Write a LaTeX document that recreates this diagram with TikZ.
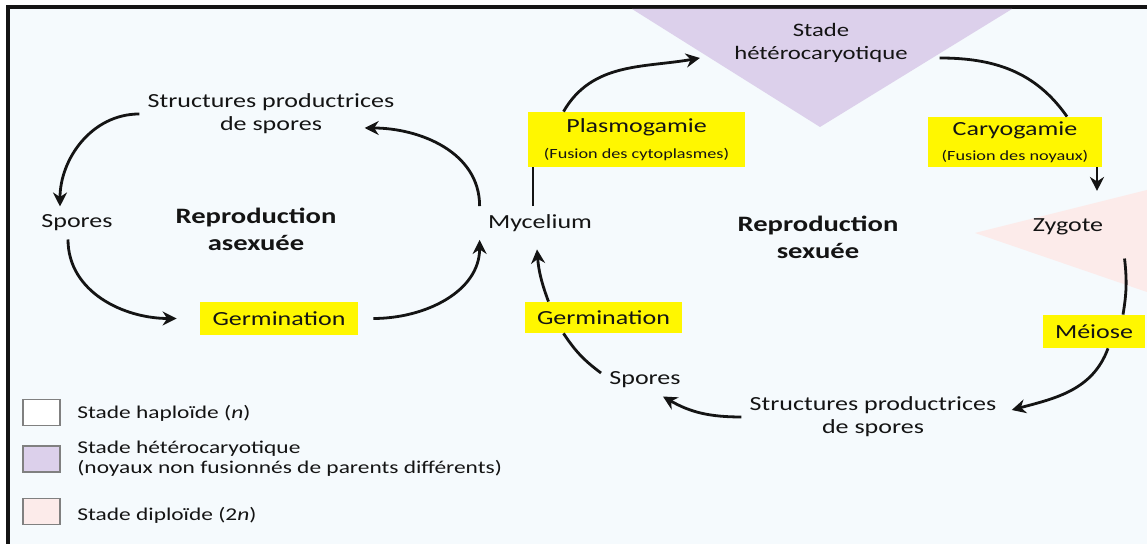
\documentclass[tikz,border=0pt]{standalone}
\usepackage{fontspec}
\setmainfont[FakeStretch=1.3]{Carlito}
\usetikzlibrary{calc, arrows.meta}
\definecolor{ink}{HTML}{141414}
\definecolor{bgpaper}{HTML}{F5FAFD}
\definecolor{hlyellow}{HTML}{FFF700}
\definecolor{hetcol}{HTML}{DCD0EB}
\definecolor{dipcol}{HTML}{FCEBEA}
\definecolor{keygray}{HTML}{808080}

\begin{document}
\begin{tikzpicture}[x=0.5pt, y=0.5pt,
  term/.style={inner sep=4pt, align=center, text=ink, font=\fontsize{10}{11.5}\selectfont},
  title/.style={term, font=\fontsize{11}{13.5}\selectfont\bfseries},
  phase/.style={fill=hlyellow, inner sep=0pt, align=center, text=ink, font=\fontsize{10}{11.5}\selectfont},
  swatch/.style={draw=keygray, line width=0.75pt, minimum width=18.5pt, minimum height=13pt},
  keytext/.style={anchor=west, inner sep=0pt, align=left, text=ink, font=\fontsize{9}{10}\selectfont},
  arrow/.style={->, >={Stealth[length=7pt, width=7pt]}, line width=1.4pt, ink},
  link/.style={line width=1.4pt, ink}
]
\useasboundingbox (0,0) rectangle (1147,544);

% Frame and stages
\fill[bgpaper] (8,0) rectangle (1147,537);
\draw[line width=2pt, ink] (1147,537) -- (8,537) -- (8,0);
\fill[hetcol] (632,535) -- (1012,535) -- (820,417) -- cycle;
\fill[dipcol] (975,311) -- (1147,354) -- (1147,252) -- cycle;

% Asexual cycle
\node[term] (strucA) at (271,430) {Structures productrices\\de spores};
\node[term] (sporesA) at (77,321) {Spores};
\node[title] (reproA) at (256,315) {Reproduction\\asexuée};
\node[phase, minimum width=79pt, minimum height=16.5pt] (germA) at (279,225.5) {Germination};
\node[term] (myc) at (540,321) {Mycelium};

% Sexual cycle
\node[phase, minimum width=108.5pt, minimum height=27.5pt] (plasmo) at (636.5,404.5) {Plasmogamie\\[1.5pt]{\fontsize{7}{8}\selectfont (Fusion des cytoplasmes)}};
\node[term, font=\fontsize{9.5}{11.5}\selectfont] (hetero) at (821,501) {Stade\\hétérocaryotique};
\node[phase, minimum width=87pt, minimum height=25pt] (caryo) at (1015,402) {Caryogamie\\[1pt]{\fontsize{7}{8}\selectfont (Fusion des noyaux)}};
\node[term] (zygote) at (1068,317) {Zygote};
\node[title] (reproS) at (818,307) {Reproduction\\sexuée};
\node[phase, minimum width=51pt, minimum height=16.5pt] (meiose) at (1094,212.5) {Méiose};
\node[term] (strucS) at (873,127) {Structures productrices\\de spores};
\node[term] (sporesS) at (645,164) {Spores};
\node[phase, minimum width=78.5pt, minimum height=15.5pt] (germS) at (603.5,226.5) {Germination};

% Legend
\node[swatch, fill=white] (keyhap) at (41.5,131.5) {};
\node[swatch, fill=hetcol] (keyhet) at (41.5,85) {};
\node[swatch, fill=dipcol] (keydip) at (41.5,32.5) {};
\node[keytext] (txthap) at (77,131) {Stade haploïde (\textit{n})};
\node[keytext] (txthet) at (77,85) {Stade hétérocaryotique\\(noyaux non fusionnés de parents différents)};
\node[keytext] (txtdip) at (77,29) {Stade diploïde (2\textit{n})};

% Arrows, asexual
\draw[arrow] (strucA.west) to[out=180, in=90] ([xshift=-8.5pt]sporesA.north);
\draw[arrow] ([xshift=-4.5pt]sporesA.south) to[out=-90, in=180] ([xshift=-11.5pt]germA.west);
\draw[arrow] ([xshift=7.5pt]germA.east) to[out=0, in=-90] (myc.south west);
\draw[arrow] (myc.north west) to[out=90, in=0] ([xshift=-19pt, yshift=-7pt]strucA.east);

% Arrows, sexual
\draw[link] ([xshift=-3.5pt]myc.north) -- ([xshift=-51.75pt]plasmo.south);
\draw[arrow] ([xshift=-36.5pt]plasmo.north) to[out=60, in=190] ([xshift=-13pt, yshift=-7.5pt]hetero.west);
\draw[link] ([xshift=11.75pt, yshift=-7.5pt]hetero.east) to[out=0, in=125] ([xshift=26pt]caryo.north);
\draw[arrow] ([xshift=41pt]caryo.south) -- ($(zygote.north)+(14.5pt,9.75pt)$);
\draw[link] ($(zygote.south east)+(6.5pt,-7.5pt)$) to[bend left=8] ([xshift=14.5pt]meiose.north);
\draw[arrow] ([xshift=7pt]meiose.south) to[out=-110, in=15] ([xshift=3.5pt, yshift=3.5pt]strucS.east);
\draw[arrow] (strucS.west) to[out=180, in=-30] ([xshift=-13pt]sporesS.south east);
\draw[link] ([yshift=3.5pt]sporesS.west) to[bend left=10] ([xshift=-20pt]germS.south);
\draw[arrow] ([xshift=-27.5pt]germS.north) to[bend left=8] ([xshift=-1.5pt, yshift=-4.75pt]myc.south);

\end{tikzpicture}
\end{document}
